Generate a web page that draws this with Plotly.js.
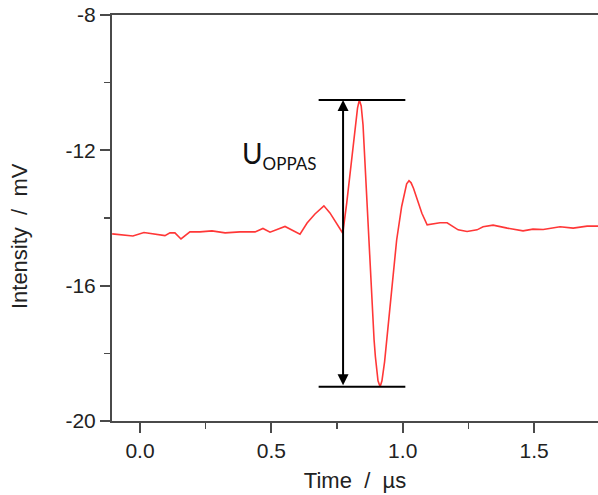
<!DOCTYPE html>
<html>
<head>
<meta charset="utf-8">
<script src="https://cdn.plot.ly/plotly-3.0.1.min.js"></script>
<style>html,body{margin:0;padding:0;background:#fff;}#chart{width:598px;height:495px;}</style>
</head>
<body>
<div id="chart"></div>
<script>
// Time in microseconds
const timeUs = [-0.106, -0.076, -0.027, 0.015, 0.057, 0.095, 0.114, 0.133, 0.156, 0.190, 0.228, 0.274, 0.324, 0.381, 0.438, 0.468, 0.495, 0.552, 0.609, 0.636, 0.666, 0.700, 0.723, 0.746, 0.772, 0.787, 0.800, 0.811, 0.819, 0.828, 0.835, 0.842, 0.849, 0.857, 0.866, 0.873, 0.876, 0.882, 0.891, 0.896, 0.906, 0.914, 0.921, 0.931, 0.939, 0.952, 0.965, 0.977, 0.996, 1.009, 1.015, 1.024, 1.032, 1.041, 1.054, 1.073, 1.093, 1.142, 1.169, 1.188, 1.211, 1.245, 1.283, 1.306, 1.344, 1.398, 1.428, 1.458, 1.496, 1.535, 1.599, 1.649, 1.702, 1.744];
// Intensity in mV
const intensityMv = [-14.47, -14.50, -14.53, -14.43, -14.48, -14.52, -14.44, -14.44, -14.62, -14.41, -14.41, -14.38, -14.44, -14.41, -14.41, -14.31, -14.42, -14.25, -14.48, -14.15, -13.88, -13.64, -13.85, -14.12, -14.45, -13.55, -12.67, -11.78, -11.34, -10.75, -10.51, -10.69, -11.25, -12.48, -13.96, -14.84, -15.62, -16.62, -17.60, -18.10, -18.81, -18.99, -18.81, -18.25, -17.60, -16.62, -15.62, -14.65, -13.66, -13.12, -12.99, -12.90, -12.96, -13.12, -13.42, -13.86, -14.20, -14.14, -14.14, -14.23, -14.35, -14.40, -14.35, -14.26, -14.21, -14.30, -14.33, -14.38, -14.33, -14.34, -14.26, -14.30, -14.24, -14.24];

const xTickVals = [0, 0.5, 1.0, 1.5];
const xTickText = ["0.0", "0.5", "1.0", "1.5"];
const yTickVals = [-8, -12, -16, -20];
const yTickText = ["-8", "-12", "-16", "-20"];

// Annotation: peak-to-peak marker
const markerTime = [0.773];          // time of the double arrow
const markerSpan = [0.68, 1.01];     // extent of the horizontal bars
const labelText = ["U<sub><span style='font-size:17px'>OPPAS</span></sub>"];

const vTop = Math.max(...intensityMv);
const vBot = Math.min(...intensityMv);

const axisColor = '#4a4a4a';
const tickFont = {family: 'Liberation Sans, Arial, sans-serif', size: 21, color: '#222'};
const titleFont = {family: 'Liberation Sans, Arial, sans-serif', size: 22, color: '#222'};

const trace = {
  x: timeUs, y: intensityMv, type: 'scatter', mode: 'lines',
  line: {color: 'rgb(255,55,55)', width: 1.6}, hoverinfo: 'skip'
};

const layout = {
  width: 598, height: 495,
  margin: {l: 112, r: 0, t: 15, b: 74},
  paper_bgcolor: '#fff', plot_bgcolor: '#fff',
  showlegend: false,
  xaxis: {
    range: [-0.1066, 1.7434],
    tickmode: 'array', tickvals: xTickVals, ticktext: xTickText,
    ticks: 'outside', ticklen: 10, tickwidth: 2, tickcolor: axisColor,
    minor: {tickmode: 'linear', tick0: 0, dtick: 0.25, ticks: 'outside', ticklen: 6, tickwidth: 1.5, tickcolor: axisColor, showgrid: false},
    showline: true, linecolor: axisColor, linewidth: 2, mirror: true,
    showgrid: false, zeroline: false,
    tickfont: tickFont,
    title: {text: 'Time&nbsp;&nbsp;/&nbsp;&nbsp;µs', font: titleFont, standoff: 11}
  },
  yaxis: {
    range: [-20, -8],
    tickmode: 'array', tickvals: yTickVals, ticktext: yTickText,
    ticks: 'outside', ticklen: 10, tickwidth: 2, tickcolor: axisColor,
    minor: {tickmode: 'linear', tick0: -20, dtick: 2, ticks: 'outside', ticklen: 6, tickwidth: 1.5, tickcolor: axisColor, showgrid: false},
    showline: true, linecolor: axisColor, linewidth: 2,
    showgrid: false, zeroline: false,
    tickfont: tickFont,
    title: {text: 'Intensity&nbsp;&nbsp;/&nbsp;&nbsp;mV&nbsp;&nbsp;&nbsp;&nbsp;&nbsp;&nbsp;', font: titleFont, standoff: 32}
  },
  shapes: [
    {type: 'line', xref: 'x', yref: 'y', x0: markerSpan[0], x1: markerSpan[1], y0: vTop, y1: vTop, line: {color: '#000', width: 2}},
    {type: 'line', xref: 'x', yref: 'y', x0: markerSpan[0], x1: markerSpan[1], y0: vBot, y1: vBot, line: {color: '#000', width: 2}}
  ],
  annotations: [
    {x: markerTime[0], y: vTop, ax: markerTime[0], ay: vBot, xref: 'x', yref: 'y', axref: 'x', ayref: 'y',
     text: '', showarrow: true, arrowhead: 2, startarrowhead: 2, arrowside: 'end+start', arrowsize: 1.1, startarrowsize: 1.1,
     arrowwidth: 2, arrowcolor: '#000', standoff: 0, startstandoff: 0},
    {x: 0.38, y: -12.14, xref: 'x', yref: 'y', xanchor: 'left', yanchor: 'middle', showarrow: false,
     text: labelText[0], font: {family: 'Lato, Open Sans, sans-serif', size: 28, color: '#111'}}
  ]
};

Plotly.newPlot('chart', [trace], layout, {displayModeBar: false, staticPlot: true});
</script>
</body>
</html>
